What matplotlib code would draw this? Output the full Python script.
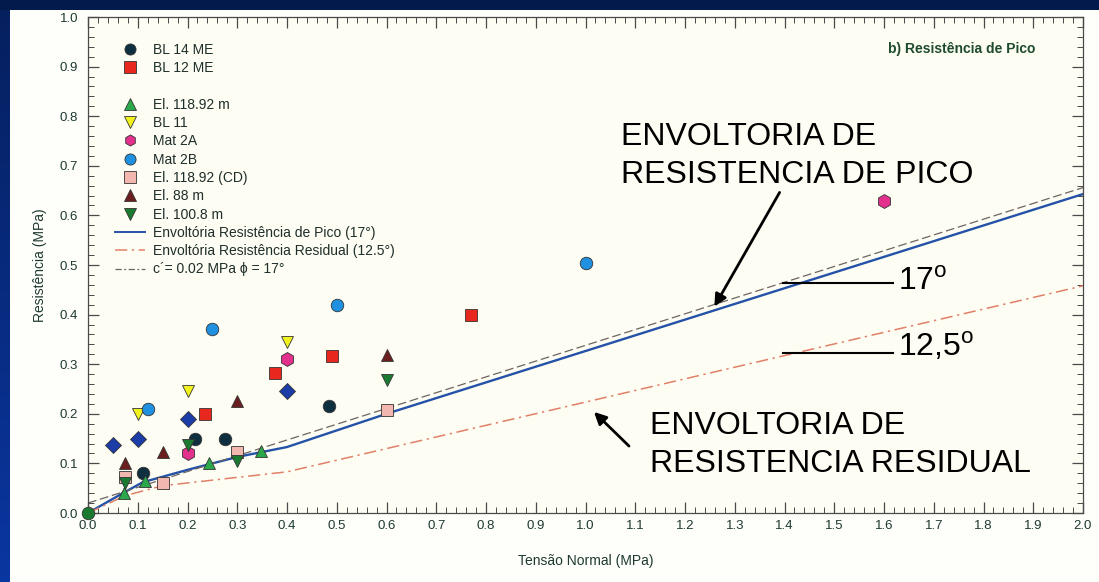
import matplotlib
matplotlib.use('Agg')
import matplotlib.pyplot as plt
import numpy as np
from matplotlib.lines import Line2D
from matplotlib.patches import FancyArrowPatch
from matplotlib.colors import LinearSegmentedColormap

plt.rcParams['font.family'] = ['Liberation Sans', 'DejaVu Sans']
plt.rcParams['mathtext.fontset'] = 'custom'
plt.rcParams['mathtext.rm'] = 'Liberation Sans'

# ensaios (tensao normal, resistencia) em MPa
bl14_x = [0.11, 0.215, 0.275, 0.485]
bl14_y = [0.08, 0.15, 0.15, 0.215]
bl12_x = [0.235, 0.375, 0.49, 0.77]
bl12_y = [0.20, 0.282, 0.317, 0.40]
el11892_x = [0.073, 0.115, 0.243, 0.347]
el11892_y = [0.041, 0.065, 0.10, 0.126]
bl11_x = [0.10, 0.20, 0.40]
bl11_y = [0.20, 0.245, 0.345]
mat2a_x = [0.20, 0.40, 1.60]
mat2a_y = [0.12, 0.31, 0.63]
mat2b_x = [0.12, 0.25, 0.50, 1.00]
mat2b_y = [0.21, 0.37, 0.42, 0.505]
elcd_x = [0.075, 0.15, 0.30, 0.60]
elcd_y = [0.073, 0.06, 0.123, 0.207]
el88_x = [0.075, 0.15, 0.30, 0.60]
el88_y = [0.10, 0.123, 0.225, 0.318]
el1008_x = [0.075, 0.20, 0.30, 0.60]
el1008_y = [0.06, 0.137, 0.105, 0.268]
diam_x = [0.05, 0.10, 0.20, 0.40]
diam_y = [0.137, 0.15, 0.19, 0.245]
orig_x = [0.0]
orig_y = [0.0]

# envoltorias
pico_x = [0.0, 0.07, 0.11, 0.20, 0.30, 0.40, 0.60, 2.0]
pico_y = [0.0, 0.04, 0.062, 0.087, 0.113, 0.133, 0.20, 0.643]
resid_x = [0.0, 0.075, 0.15, 0.40, 2.0]
resid_y = [0.0, 0.035, 0.055, 0.083, 0.458]
coes_x = [0.0, 2.0]
coes_y = [0.02, 0.656]

fig = plt.figure(figsize=(10.99, 5.82), dpi=100)
fig.patch.set_facecolor('#fefefa')

# moldura azul do slide
cmap = LinearSegmentedColormap.from_list('slide', ['#06205e', '#0a36a0'])
axl = fig.add_axes([0, 0, 10 / 1099, 1])
axl.imshow(np.linspace(0, 1, 100).reshape(-1, 1), aspect='auto', cmap=cmap)
axl.axis('off')
axt = fig.add_axes([0, 1 - 10 / 582, 1, 10 / 582])
axt.set_facecolor('#021a4c')
axt.set_xticks([]); axt.set_yticks([])
for s in axt.spines.values():
    s.set_visible(False)

ax = fig.add_axes([88 / 1099, 69 / 582, 995 / 1099, 496 / 582])
ax.set_facecolor('#fefdf3')

ax.plot(pico_x, pico_y, color='#2452a8', lw=1.7, zorder=2)
ax.plot(resid_x, resid_y, color='#e08068', lw=1.1, ls=(0, (8, 3, 1.5, 3)), zorder=2)
ax.plot(coes_x, coes_y, color='#6e6460', lw=0.9, ls=(0, (7, 3)), zorder=2)

ek = dict(linestyle='none', markeredgecolor='#333333', markeredgewidth=0.6, zorder=3)
ax.plot(diam_x, diam_y, marker='D', ms=8, color='#1c3ca8', **ek)
ax.plot(bl14_x, bl14_y, marker='o', ms=9, color='#0d2f40', **ek)
ax.plot(bl12_x, bl12_y, marker='s', ms=8, color='#e8281e', **ek)
ax.plot(el11892_x, el11892_y, marker='^', ms=8, color='#2aa84a', **ek)
ax.plot(bl11_x, bl11_y, marker='v', ms=9, color='#f2f21e', **ek)
ax.plot(mat2a_x, mat2a_y, marker='h', ms=10, color='#e2308c', **ek)
ax.plot(mat2b_x, mat2b_y, marker='o', ms=9, color='#2090e0', **ek)
ax.plot(elcd_x, elcd_y, marker='s', ms=8, color='#f2b8b0', **ek)
ax.plot(el88_x, el88_y, marker='^', ms=8, color='#6a1e1e', **ek)
ax.plot(el1008_x, el1008_y, marker='v', ms=8, color='#1a7a30', **ek)
ax.plot(orig_x, orig_y, marker='o', ms=9, color='#1a7a30', clip_on=False, **ek)

lk = dict(linestyle='none', markeredgecolor='#333333', markeredgewidth=0.6, ms=8)
handles = [
    Line2D([], [], marker='o', color='#0d2f40', label='BL 14 ME', **lk),
    Line2D([], [], marker='s', color='#e8281e', label='BL 12 ME', **lk),
    Line2D([], [], linestyle='none', label=' '),
    Line2D([], [], marker='^', color='#2aa84a', label='El. 118.92 m', **lk),
    Line2D([], [], marker='v', color='#f2f21e', label='BL 11', **lk),
    Line2D([], [], marker='h', color='#e2308c', label='Mat 2A', **lk),
    Line2D([], [], marker='o', color='#2090e0', label='Mat 2B', **lk),
    Line2D([], [], marker='s', color='#f2b8b0', label='El. 118.92 (CD)', **lk),
    Line2D([], [], marker='^', color='#6a1e1e', label='El. 88 m', **lk),
    Line2D([], [], marker='v', color='#1a7a30', label='El. 100.8 m', **lk),
    Line2D([], [], color='#2452a8', lw=1.4, label='Envoltória Resistência de Pico (17°)'),
    Line2D([], [], color='#e08068', lw=1.1, ls=(0, (8, 3, 1.5, 3)),
           label='Envoltória Resistência Residual (12.5°)'),
    Line2D([], [], color='#6e6460', lw=0.9, ls=(0, (5, 2, 1.5, 2)),
           label='c´= 0.02 MPa ϕ = 17°'),
]
leg = ax.legend(handles=handles, loc='upper left', bbox_to_anchor=(0.027, 0.948),
                frameon=False, fontsize=10, borderpad=0, borderaxespad=0,
                labelspacing=0.31, handlelength=2.15, handletextpad=0.58)
for t in leg.get_texts():
    t.set_color('#1e2e2a')

ax.text(0.952, 0.935, 'b) Resistência de Pico', transform=ax.transAxes,
        ha='right', va='center', fontsize=10, fontweight='bold', color='#1e4a30')

ax.set_xlim(0, 2.0)
ax.set_ylim(0, 1.0)
ax.set_xticks(np.arange(0, 2.01, 0.1))
ax.set_yticks(np.arange(0, 1.01, 0.1))
ax.set_xticks(np.arange(0, 2.001, 0.02), minor=True)
ax.set_yticks(np.arange(0, 1.001, 0.02), minor=True)
ax.set_xticklabels(['%.1f' % v for v in np.arange(0, 2.01, 0.1)])
ax.set_yticklabels(['%.1f' % v for v in np.arange(0, 1.01, 0.1)])
ax.tick_params(which='both', direction='in', top=True, right=True,
               colors='#4a4a4a', labelcolor='#1e3a30', labelsize=9.5)
ax.tick_params(which='major', length=8, width=0.9)
ax.tick_params(which='minor', length=4, width=0.7)
ax.tick_params(axis='y', pad=7)
ax.tick_params(axis='x', pad=5)
for s in ax.spines.values():
    s.set_color('#4a4a4a')
    s.set_linewidth(0.9)

ax.set_xlabel('Tensão Normal (MPa)', fontsize=10, color='#1e3a30', labelpad=16)
ax.set_ylabel('Resistência (MPa)', fontsize=10, color='#1e3a30', labelpad=9)

# anotacoes do slide (coordenadas em pixels da figura)
def fx(p):
    return p / 1099
def fy(p):
    return 1 - p / 582

big = dict(fontsize=23, color='black', transform=fig.transFigure, linespacing=1.38)
fig.text(fx(621), fy(156), 'ENVOLTORIA DE\nRESISTENCIA DE PICO', va='center', **big)
fig.text(fx(650), fy(445), 'ENVOLTORIA DE\nRESISTENCIA RESIDUAL', va='center', **big)
fig.text(fx(898), fy(290), r'17$^{\rm o}$', va='baseline', **big)
fig.text(fx(898), fy(356), r'12,5$^{\rm o}$', va='baseline', **big)
fig.add_artist(Line2D([fx(783), fx(893)], [fy(283), fy(283)], color='black', lw=1.5))
fig.add_artist(Line2D([fx(783), fx(893)], [fy(353), fy(353)], color='black', lw=1.5))
arw = dict(arrowstyle='-|>', color='black', lw=2, mutation_scale=18)
fig.add_artist(FancyArrowPatch((fx(781), fy(190)), (fx(713), fy(309)),
                               transform=fig.transFigure, **arw))
fig.add_artist(FancyArrowPatch((fx(631), fy(448)), (fx(592), fy(410)),
                               transform=fig.transFigure, **arw))

fig.savefig('out.png', dpi=100)
